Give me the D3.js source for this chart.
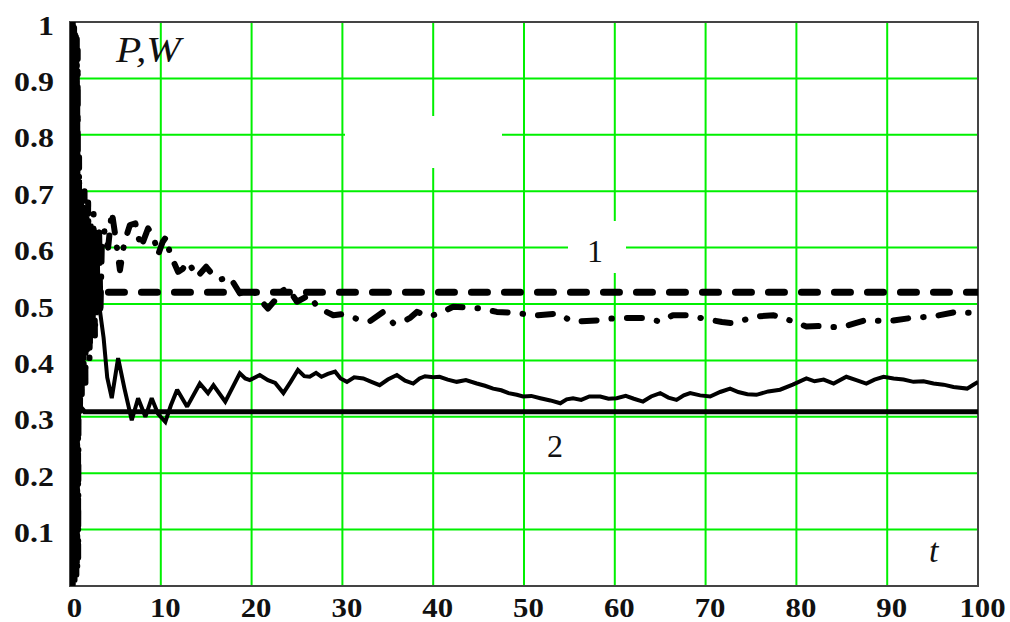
<!DOCTYPE html>
<html>
<head>
<meta charset="utf-8">
<script src="https://cdn.jsdelivr.net/npm/d3@7"></script>
<style>
  html, body { margin: 0; padding: 0; background: #fff; }
  svg { display: block; }
  .tick-label { font-family: "Liberation Serif", "Times New Roman", serif; font-weight: bold; font-size: 28px; fill: #111; }
  .math { font-family: "Liberation Serif", "Times New Roman", serif; font-style: italic; fill: #111; }
  .curve-num { font-family: "Liberation Serif", "Times New Roman", serif; font-size: 32px; fill: #111; }
</style>
</head>
<body>
<svg id="chart" width="1010" height="622"></svg>
<script>
// Axis ticks
const xTicks = [0, 10, 20, 30, 40, 50, 60, 70, 80, 90, 100];
const yTicks = [0.1, 0.2, 0.3, 0.4, 0.5, 0.6, 0.7, 0.8, 0.9, 1];
const yTickLabels = ["0.1", "0.2", "0.3", "0.4", "0.5", "0.6", "0.7", "0.8", "0.9", "1"];

// Curve 1: simulated W(t) (dash-dot)
const wSimT = [0, 0.05, 0.1, 0.15, 0.2, 0.25, 0.3, 0.35, 0.4, 0.45, 0.5, 0.55, 0.6, 0.65, 0.7, 0.75, 0.8, 0.85, 0.9, 1.0,
  1.1, 1.2, 1.3, 1.4, 1.5, 1.6, 1.7, 1.8, 1.9, 2.0, 2.15, 2.3, 2.45, 2.6, 2.75, 2.9, 3.05, 3.2, 3.35, 3.5,
  3.8, 4.2, 4.6, 5.0, 5.5, 6.0, 6.6, 7.2, 7.8, 8.6, 9.2, 9.7, 10.2, 10.6, 11.0, 11.9, 12.4, 13.0, 14.0,
  15.0, 15.7, 16.5, 17.6, 18.7, 19.5, 20.0, 20.8, 21.8, 22.5, 23.1, 24.0, 25.0, 26.4, 27.2, 28.0, 29.0, 30.0, 30.8, 31.9,
  33.0, 34.5, 35.6, 36.7, 37.5, 38.2, 39.6, 40.9, 42.2, 43.7, 45.2, 47.0, 48.3, 49.6, 51.4, 53.6, 55.4, 56.9, 58.4, 59.5,
  60.9, 63.1, 65.0, 66.4, 67.9, 69.2, 70.5, 71.8, 73.0, 74.3, 75.6, 77.5, 79.7, 81.1, 82.5, 83.9, 85.2, 86.5, 87.7, 89.9,
  92.5, 95.1, 97.6, 100];
const wSimV = [0, 1, 0, 1, 0, 1, 0, 1, 0.01, 0.99, 0.01, 0.99, 0.02, 0.98, 0.02, 0.97, 0.03, 0.95, 0.05, 0.76,
  0.3, 0.7, 0.34, 0.68, 0.38, 0.7, 0.36, 0.66, 0.42, 0.68, 0.4, 0.65, 0.46, 0.66, 0.44, 0.62, 0.5, 0.64, 0.48, 0.6,
  0.63, 0.6, 0.664, 0.62, 0.56, 0.61, 0.64, 0.643, 0.6, 0.634, 0.62, 0.587, 0.61, 0.619, 0.59, 0.557, 0.562, 0.575, 0.548,
  0.566, 0.552, 0.543, 0.548, 0.519, 0.525, 0.528, 0.51, 0.492, 0.505, 0.522, 0.528, 0.504, 0.516, 0.495, 0.488, 0.480, 0.482, 0.478, 0.472,
  0.469, 0.486, 0.466, 0.469, 0.476, 0.486, 0.478, 0.485, 0.495, 0.494, 0.492, 0.486, 0.485, 0.483, 0.480, 0.483, 0.469, 0.470, 0.471, 0.474,
  0.475, 0.475, 0.469, 0.480, 0.480, 0.476, 0.472, 0.468, 0.466, 0.472, 0.478, 0.480, 0.469, 0.460, 0.461, 0.459, 0.460, 0.466, 0.472, 0.469,
  0.475, 0.478, 0.486, 0.483];

// Curve 1: steady level (dashed)
const wLevelT = [0.6, 100];
const wLevelV = [0.521, 0.521];

// Curve 2: simulated P(t) (solid, jagged)
const pSimT = [0, 0.05, 0.1, 0.15, 0.2, 0.25, 0.3, 0.35, 0.4, 0.45, 0.5, 0.55, 0.6, 0.65, 0.7, 0.75, 0.8, 0.85, 0.9, 1.0,
  1.1, 1.2, 1.3, 1.4, 1.5, 1.6, 1.7, 1.8, 1.9, 2.0, 2.15, 2.3, 2.45, 2.6, 2.75, 2.9, 3.05, 3.2, 3.45, 3.7,
  4.1, 4.6, 5.3, 6.0, 6.8, 7.5, 8.3, 9.0, 9.7, 10.5, 11.1, 11.8, 12.9, 14.3, 15.2, 15.8, 17.1, 18.7, 19.3,
  19.8, 20.9, 21.8, 22.6, 23.5, 24.3, 25.1, 25.8, 26.4, 27.1, 27.7, 28.4, 29.2, 29.8, 30.5, 31.3, 32.3, 33.2, 34.1, 35.0,
  36.0, 36.9, 37.8, 38.5, 39.1, 40.0, 40.7, 41.6, 42.6, 43.6, 44.8, 45.7, 46.6, 47.5, 48.3, 49.2, 49.9, 50.8, 51.8, 52.9,
  54.0, 54.7, 55.4, 56.3, 57.2, 58.4, 59.3, 60.2, 61.2, 62.1, 63.1, 64.0, 65.0, 65.9, 66.8, 67.6, 68.3, 69.4, 70.5, 71.6,
  72.7, 73.6, 74.6, 75.6, 76.9, 78.2, 79.6, 81.1, 82.0, 83.0, 84.1, 85.5, 86.6, 87.7, 88.6, 89.6, 90.7, 91.8, 92.9, 94.0,
  95.1, 96.2, 97.3, 98.8, 99.4, 100];
const pSimV = [1, 0, 1, 0, 1, 0, 1, 0, 1, 0.01, 0.99, 0.01, 0.98, 0.02, 0.97, 0.03, 0.94, 0.04, 0.88, 0.3,
  0.72, 0.36, 0.68, 0.38, 0.66, 0.4, 0.64, 0.42, 0.63, 0.44, 0.62, 0.43, 0.61, 0.46, 0.6, 0.48, 0.58, 0.5, 0.47, 0.44,
  0.37, 0.333, 0.404, 0.35, 0.294, 0.333, 0.300, 0.333, 0.305, 0.291, 0.32, 0.348, 0.318, 0.359, 0.342, 0.356, 0.327, 0.377, 0.368,
  0.365, 0.374, 0.365, 0.36, 0.342, 0.362, 0.383, 0.372, 0.371, 0.378, 0.371, 0.376, 0.380, 0.368, 0.362, 0.37, 0.368, 0.362, 0.356, 0.366,
  0.374, 0.364, 0.359, 0.368, 0.372, 0.37, 0.371, 0.366, 0.362, 0.365, 0.359, 0.355, 0.350, 0.347, 0.342, 0.339, 0.336, 0.337, 0.333, 0.329,
  0.324, 0.331, 0.333, 0.330, 0.336, 0.336, 0.332, 0.333, 0.337, 0.332, 0.327, 0.336, 0.342, 0.334, 0.330, 0.338, 0.342, 0.338, 0.336, 0.344,
  0.350, 0.344, 0.340, 0.339, 0.345, 0.348, 0.357, 0.368, 0.363, 0.366, 0.359, 0.371, 0.365, 0.359, 0.366, 0.371, 0.368, 0.366, 0.362, 0.363,
  0.359, 0.357, 0.353, 0.350, 0.356, 0.362];

// Curve 2: steady level (solid)
const pLevelT = [0.9, 1.2, 1.6, 100];
const pLevelV = [0.34, 0.316, 0.309, 0.309];

const svg = d3.select("#chart");
const plot = { left: 70, right: 978, top: 22, bottom: 586 };

const x = d3.scaleLinear().domain([0, 100]).range([plot.left, plot.right]);
const y = d3.scaleLinear().domain([0, 1]).range([plot.bottom, plot.top]);

svg.append("defs").append("clipPath").attr("id", "plot-clip")
  .append("rect").attr("x", plot.left).attr("y", plot.top)
  .attr("width", plot.right - plot.left).attr("height", plot.bottom - plot.top);

// Grid
const grid = svg.append("g").attr("stroke", "#00f000").attr("stroke-width", 2);
grid.selectAll("line.v").data(xTicks.filter(d => d > 0 && d < 100)).join("line")
  .attr("x1", d => x(d)).attr("x2", d => x(d)).attr("y1", plot.top).attr("y2", plot.bottom);
grid.selectAll("line.h").data(yTicks.filter(d => d < 1)).join("line")
  .attr("x1", plot.left).attr("x2", plot.right).attr("y1", d => y(d)).attr("y2", d => y(d));

// Label backdrops that interrupt the grid
svg.append("rect").attr("x", 345).attr("y", 116).attr("width", 157).attr("height", 52).attr("fill", "#fff");
svg.append("rect").attr("x", 568).attr("y", 221).attr("width", 58).attr("height", 52).attr("fill", "#fff");

// Frame
svg.append("rect")
  .attr("x", plot.left).attr("y", plot.top)
  .attr("width", plot.right - plot.left).attr("height", plot.bottom - plot.top)
  .attr("fill", "none").attr("stroke", "#444").attr("stroke-width", 2);

// Curves
const line = d3.line().x(d => x(d[0])).y(d => y(d[1]));
const zip = (ts, vs) => ts.map((t, i) => [t, vs[i]]);
const curves = svg.append("g").attr("clip-path", "url(#plot-clip)");

curves.append("path").datum(zip(pLevelT, pLevelV)).attr("d", line)
  .attr("fill", "none").attr("stroke", "#000").attr("stroke-width", 5);

curves.append("path").datum(zip(wLevelT, wLevelV)).attr("d", line)
  .attr("fill", "none").attr("stroke", "#000").attr("stroke-width", 7)
  .attr("stroke-linecap", "round").attr("stroke-dasharray", "16,17");

curves.append("path").datum(zip(pSimT, pSimV)).attr("d", line)
  .attr("fill", "none").attr("stroke", "#000").attr("stroke-width", 4)
  .attr("stroke-linejoin", "miter").attr("stroke-miterlimit", 2);

curves.append("path").datum(zip(wSimT, wSimV)).attr("d", line)
  .attr("fill", "none").attr("stroke", "#000").attr("stroke-width", 6)
  .attr("stroke-linecap", "round").attr("stroke-linejoin", "round")
  .attr("stroke-dasharray", "15,15,0.5,15");

// Axes
const yAxis = d3.axisLeft(y).tickValues(yTicks).tickSize(0).tickPadding(0)
  .tickFormat((d, i) => yTickLabels[i]);
const gy = svg.append("g").attr("transform", `translate(${plot.left - 16},0)`).call(yAxis);
gy.select(".domain").remove();
gy.attr("font-size", null).attr("font-family", null);
gy.selectAll("text").attr("class", "tick-label").attr("dy", "0.36em")
  .attr("transform", "translate(0,2) scale(1.14,1)");

const xAxis = d3.axisBottom(x).tickValues(xTicks).tickSize(0).tickPadding(0).tickFormat(d3.format("d"));
const gx = svg.append("g").attr("transform", `translate(4,${plot.bottom})`).call(xAxis);
gx.select(".domain").remove();
gx.attr("font-size", null).attr("font-family", null);
gx.selectAll("text").attr("class", "tick-label").attr("dy", null).attr("y", 0)
  .attr("transform", "translate(0,31) scale(1.1,1)");

// Annotations
svg.append("text").attr("class", "math").attr("x", 116).attr("y", 62).attr("font-size", 36)
  .attr("transform", "translate(116,62) scale(1.15,1) translate(-116,-62)").text("P,W");
svg.append("text").attr("class", "math").attr("x", 929).attr("y", 562).attr("font-size", 34).text("t");
svg.append("text").attr("class", "curve-num").attr("x", 587).attr("y", 262).text("1");
svg.append("text").attr("class", "curve-num").attr("x", 547).attr("y", 457).text("2");
</script>
</body>
</html>
